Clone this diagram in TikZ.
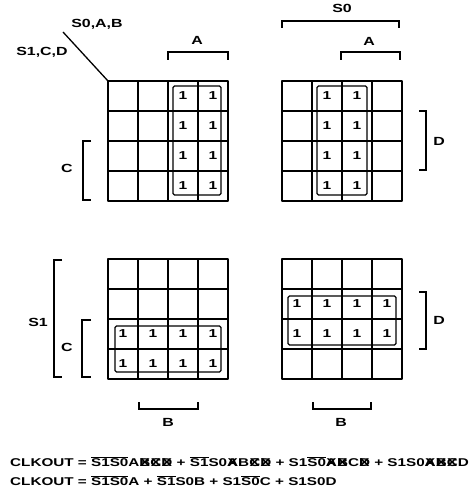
\documentclass[tikz,border=0pt]{standalone}
\usepackage{fontspec}
\setmainfont{Liberation Sans}[FakeStretch=1.35]
\usetikzlibrary{positioning}
\newcommand{\ovl}[1]{$\overline{\hbox{#1}}$}
\newcommand{\dcare}[1]{\ooalign{#1\cr\hidewidth X\hidewidth\cr}}
\tikzset{
	one/.style={font=\bfseries\fontsize{11.5}{11.5}\selectfont,inner sep=0pt},
	lbl/.style={font=\bfseries\fontsize{11.8}{11.8}\selectfont,inner sep=0pt},
	eqn/.style={font=\bfseries\fontsize{11.3}{11.3}\selectfont,inner sep=0pt,anchor=west},
	cellline/.style={line width=1.5pt},
	frame/.style={line width=2.4pt,line join=round},
	loop/.style={line width=1.2pt,rounded corners=1.5pt},
	brk/.style={line width=1.5pt},
}

\begin{document}
\begin{tikzpicture}[x=1pt,y=-1pt]
	\useasboundingbox (0,0) rectangle (473,500);
	% the four maps
	\foreach \mx/\my/\m in {108/81/ul,282/81/ur,108/259/ll,282/259/lr}{
		\foreach \i in {1,2,3}{
			\draw[cellline] (\mx+30*\i,\my) -- (\mx+30*\i,\my+120);
			\draw[cellline] (\mx,\my+30*\i) -- (\mx+120,\my+30*\i);
		}
		\draw[frame] (\mx,\my) rectangle (\mx+120,\my+120);
		\coordinate (\m) at (\mx,\my);
	}
	% ones
	\foreach \r in {1,...,4}{
		\foreach \c in {3,4} \node[one] (ul-\r-\c) at (108+30*\c-15,81+30*\r-15) {1};
		\foreach \c in {2,3} \node[one] (ur-\r-\c) at (282+30*\c-15,81+30*\r-15) {1};
	}
	\foreach \c in {1,...,4}{
		\foreach \r in {3,4} \node[one] (ll-\r-\c) at (108+30*\c-15,259+30*\r-15) {1};
		\foreach \r in {2,3} \node[one] (lr-\r-\c) at (282+30*\c-15,259+30*\r-15) {1};
	}
	% loops
	\draw[loop] (173,86) rectangle (221,195);
	\draw[loop] (317,86) rectangle (367,195);
	\draw[loop] (115,326) rectangle (221,372);
	\draw[loop] (288,296) rectangle (396,345);
	% corner labels
	\node[lbl] (s0ab) at (97,24) {S0,A,B};
	\node[lbl] (s1cd) at (42,52) {S1,C,D};
	\coordinate (diag) at (63,32);
	\draw[line width=1.3pt] (diag) -- (ul);
	% brackets, top maps
	\draw[brk] (168,60) -- (168,52) -- (228,52) -- (228,60);
	\node[lbl] (ul-a) at (197,40) {A};
	\draw[brk] (91,141) -- (83,141) -- (83,200) -- (91,200);
	\node[lbl] (ul-c) at (67,168) {C};
	\draw[brk] (282,28) -- (282,21) -- (399,21) -- (399,28);
	\node[lbl] (ur-s0) at (342,8) {S0};
	\draw[brk] (341,60) -- (341,52) -- (400,52) -- (400,60);
	\node[lbl] (ur-a) at (369,41) {A};
	\draw[brk] (419,111) -- (426,111) -- (426,170) -- (419,170);
	\node[lbl] (ur-d) at (439,141) {D};
	% brackets, bottom maps
	\draw[brk] (62,260) -- (54,260) -- (54,377) -- (62,377);
	\node[lbl] (ll-s1) at (38,322) {S1};
	\draw[brk] (91,320) -- (82,320) -- (82,377) -- (91,377);
	\node[lbl] (ll-c) at (67,347) {C};
	\draw[brk] (139,402) -- (139,409) -- (198,409) -- (198,402);
	\node[lbl] (ll-b) at (168,422) {B};
	\draw[brk] (419,292) -- (426,292) -- (426,349) -- (419,349);
	\node[lbl] (lr-d) at (439,320) {D};
	\draw[brk] (313,402) -- (313,409) -- (371,409) -- (371,402);
	\node[lbl] (lr-b) at (341,422) {B};
	% equations
	\node[eqn] (eq1) at (10,462) {CLKOUT = \ovl{S1}\ovl{S0}A\dcare{B}\dcare{C}\dcare{D} + \ovl{S1}S0\dcare{A}B\dcare{C}\dcare{D} + S1\ovl{S0}\dcare{A}\dcare{B}C\dcare{D} + S1S0\dcare{A}\dcare{B}\dcare{C}D};
	\node[eqn] (eq2) at (10,481) {CLKOUT = \ovl{S1}\ovl{S0}A + \ovl{S1}S0B + S1\ovl{S0}C + S1S0D};
\end{tikzpicture}
\end{document}
